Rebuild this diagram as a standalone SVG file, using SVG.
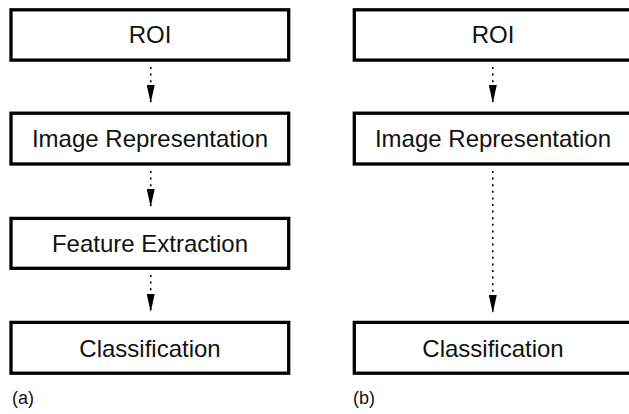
<svg xmlns="http://www.w3.org/2000/svg" width="629" height="414" viewBox="0 0 629 414">
  <style>
    .box { fill: #ffffff; stroke: #000000; stroke-width: 3.3; }
    .label { font-family: "Liberation Sans", Arial, Helvetica, sans-serif; font-size: 24px; fill: #111111; text-anchor: middle; }
    .tag { font-family: "Liberation Sans", Arial, Helvetica, sans-serif; font-size: 18px; fill: #111111; }
    .flow { stroke: #000000; stroke-width: 1.6; stroke-dasharray: 2 4.6; fill: none; marker-end: url(#head); }
  </style>
  <defs>
    <marker id="head" viewBox="0 0 18 8" refX="18" refY="4" markerWidth="18" markerHeight="8" markerUnits="userSpaceOnUse" orient="auto">
      <path d="M0,0 L18,4 L0,8 Z" fill="#000000"/>
    </marker>
  </defs>

  <rect x="0" y="0" width="629" height="414" fill="#ffffff"/>

  <!-- pipeline (a) -->
  <g id="a-roi">
    <rect class="box" x="11" y="9.8" width="277.7" height="50.3"/>
    <text class="label" x="150" y="43">ROI</text>
  </g>
  <g id="a-image-representation">
    <rect class="box" x="11" y="113.2" width="277.7" height="50.8"/>
    <text class="label" x="150" y="147">Image Representation</text>
  </g>
  <g id="a-feature-extraction">
    <rect class="box" x="11" y="218.4" width="277.7" height="49.9"/>
    <text class="label" x="150" y="252">Feature Extraction</text>
  </g>
  <g id="a-classification">
    <rect class="box" x="11" y="322.4" width="277.7" height="50.8"/>
    <text class="label" x="150" y="357">Classification</text>
  </g>

  <!-- pipeline (b) -->
  <g id="b-roi">
    <rect class="box" x="354.3" y="9.8" width="277.7" height="50.3"/>
    <text class="label" x="493" y="43">ROI</text>
  </g>
  <g id="b-image-representation">
    <rect class="box" x="354.3" y="113.2" width="277.7" height="50.8"/>
    <text class="label" x="493" y="147">Image Representation</text>
  </g>
  <g id="b-classification">
    <rect class="box" x="354.3" y="322.4" width="277.7" height="50.8"/>
    <text class="label" x="493" y="357">Classification</text>
  </g>

  <g id="connectors">
    <line class="flow" x1="150.7" y1="67" x2="150.7" y2="103"/>
    <line class="flow" x1="150.7" y1="171" x2="150.7" y2="207"/>
    <line class="flow" x1="150.7" y1="275" x2="150.7" y2="312"/>
    <line class="flow" x1="492.8" y1="67" x2="492.8" y2="103"/>
    <line class="flow" x1="492.8" y1="171" x2="492.8" y2="313"/>
  </g>

  <g id="captions">
    <text class="tag" x="12" y="404">(a)</text>
    <text class="tag" x="353" y="404">(b)</text>
  </g>
</svg>
